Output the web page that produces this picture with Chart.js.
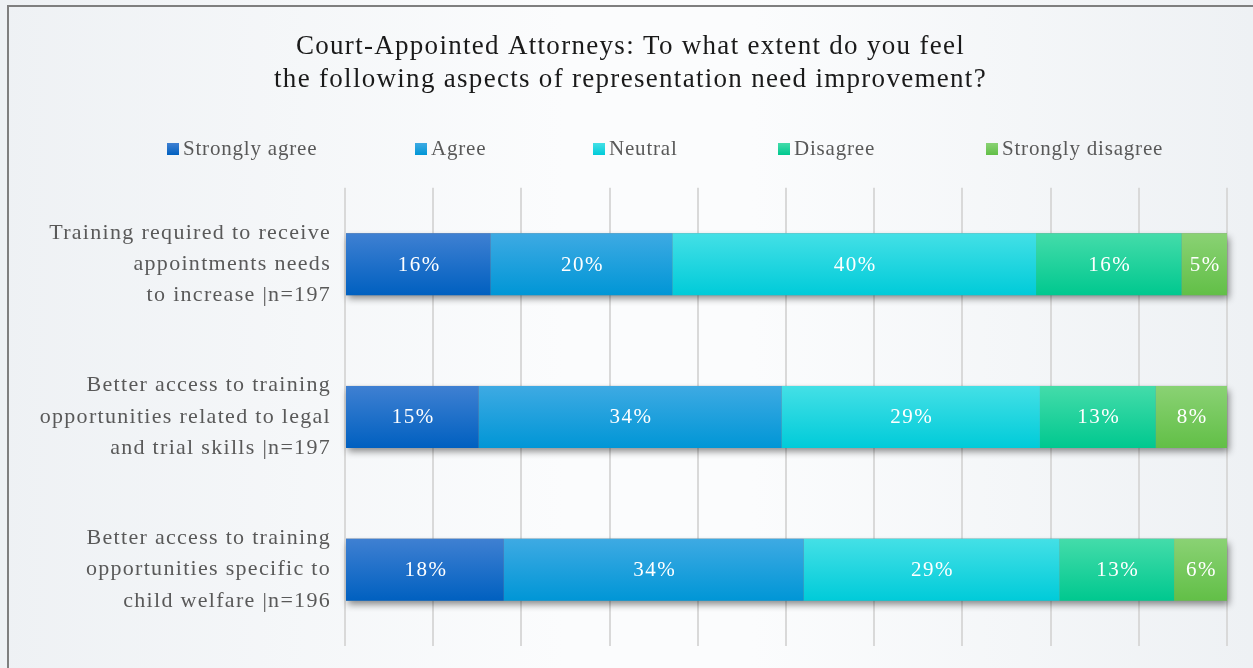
<!DOCTYPE html>
<html lang="en">
<head>
  <meta charset="UTF-8" />
  <title>Court-Appointed Attorneys</title>
  <script src="https://cdn.jsdelivr.net/npm/chart.js"></script>
  <style>
    html, body {
      margin: 0;
      padding: 0;
      width: 1253px;
      height: 668px;
      overflow: hidden;
    }
    body {
      background: linear-gradient(to right, #eef1f4 0%, #fbfcfd 45%, #fbfcfd 60%, #eef1f4 100%);
      font-family: "Liberation Serif", serif;
    }
    .frame {
      position: absolute;
      left: 7px;
      top: 5px;
      width: 1260px;
      height: 680px;
      border-left: 2px solid #7f7f7f;
      border-top: 2px solid #7f7f7f;
    }
    #wrap {
      position: absolute;
      left: 0;
      top: 0;
      width: 1253px;
      height: 668px;
    }
    .legend {
      position: absolute;
      top: 136px;
      left: 0;
      width: 1253px;
      height: 26px;
      font-size: 21px;
      letter-spacing: 0.8px;
      color: #595959;
    }
    .legend-item {
      position: absolute;
      top: 0;
      display: flex;
      align-items: center;
      white-space: nowrap;
    }
    .color-box {
      width: 12px;
      height: 12px;
      margin-right: 4px;
    }
  </style>
</head>
<body>

<div class="frame"></div>
<div id="wrap"><canvas id="chart" width="1253" height="668"></canvas></div>
<div class="legend" id="legendContainer"></div>

<script>
  const categories = [
    ["Training required to receive", "appointments needs", "to increase |n=197"],
    ["Better access to training", "opportunities related to legal", "and trial skills |n=197"],
    ["Better access to training", "opportunities specific to", "child welfare |n=196"]
  ];
  const seriesNames = ["Strongly agree", "Agree", "Neutral", "Disagree", "Strongly disagree"];

  // percentages as printed on the bars
  const stronglyAgree = [16, 15, 18];
  const agree = [20, 34, 34];
  const neutral = [40, 29, 29];
  const disagree = [16, 13, 13];
  const stronglyDisagree = [5, 8, 6];

  const xTicks = [0, 10, 20, 30, 40, 50, 60, 70, 80, 90, 100];

  // [top, bottom] of the vertical gradient on each segment
  const colors = [
    ["#3f80d2", "#0060c0"],
    ["#3eaae3", "#0096d6"],
    ["#44e0e6", "#00cbd9"],
    ["#44dcaa", "#00c88f"],
    ["#8ad274", "#62bf47"]
  ];

  // left edge (px) of each legend entry
  const legendLeft = [167, 415, 593, 778, 986];

  const series = [stronglyAgree, agree, neutral, disagree, stronglyDisagree];
  const totals = categories.map((c, i) => series.reduce((s, arr) => s + arr[i], 0));
  const barPct = 0.406;

  function segmentFill(k) {
    return function (ctx) {
      const chart = ctx.chart;
      const y = chart.scales.y;
      if (!chart.chartArea || !y || ctx.dataIndex === undefined) return colors[k][1];
      const band = (y.bottom - y.top) / categories.length;
      const cy = y.getPixelForValue(ctx.dataIndex);
      const h = band * barPct / 2;
      const g = chart.ctx.createLinearGradient(0, cy - h, 0, cy + h);
      g.addColorStop(0, colors[k][0]);
      g.addColorStop(1, colors[k][1]);
      return g;
    };
  }

  // the reference font runs wider than Liberation Serif
  const spacing = {
    id: 'spacing',
    beforeDraw(chart) { chart.ctx.letterSpacing = '1.3px'; }
  };

  const barShadow = {
    id: 'barShadow',
    beforeDatasetsDraw(chart) {
      const ctx = chart.ctx;
      const first = chart.getDatasetMeta(0).data;
      const last = chart.getDatasetMeta(series.length - 1).data;
      ctx.save();
      ctx.shadowColor = 'rgba(0,0,0,0.45)';
      ctx.shadowBlur = 7;
      ctx.shadowOffsetX = 2;
      ctx.shadowOffsetY = 4;
      ctx.fillStyle = '#888';
      first.forEach((bar, i) => {
        const left = bar.base;
        const right = last[i].x;
        ctx.fillRect(left, bar.y - bar.height / 2, right - left, bar.height);
      });
      ctx.restore();
    }
  };

  const valueLabels = {
    id: 'valueLabels',
    afterDatasetsDraw(chart) {
      const ctx = chart.ctx;
      ctx.save();
      ctx.font = '21px "Liberation Serif"';
      ctx.letterSpacing = '1.5px';
      ctx.fillStyle = '#ffffff';
      ctx.textAlign = 'center';
      ctx.textBaseline = 'middle';
      series.forEach((arr, k) => {
        chart.getDatasetMeta(k).data.forEach((bar, i) => {
          ctx.fillText(arr[i] + '%', (bar.x + bar.base) / 2 + 1, bar.y + 1);
        });
      });
      ctx.restore();
    }
  };

  const ctx = document.getElementById('chart').getContext('2d');
  new Chart(ctx, {
    type: 'bar',
    data: {
      labels: categories,
      datasets: series.map((arr, k) => ({
        label: seriesNames[k],
        data: arr.map((v, i) => v / totals[i] * 100),
        backgroundColor: segmentFill(k),
        borderWidth: 0,
        barPercentage: barPct,
        categoryPercentage: 1
      }))
    },
    options: {
      indexAxis: 'y',
      responsive: false,
      animation: false,
      layout: { padding: { left: 34, right: 26, top: 0, bottom: 22 } },
      scales: {
        x: {
          stacked: true,
          min: 0,
          max: 100,
          afterBuildTicks(scale) { scale.ticks = xTicks.map(v => ({ value: v })); },
          afterFit(scale) { scale.height = 0; },
          ticks: { display: false },
          grid: { color: '#d9d9d9', lineWidth: 2, drawTicks: false },
          border: { display: false }
        },
        y: {
          stacked: true,
          afterFit(scale) {
            scale.width = 311;
            scale.paddingTop = 0;
            scale.paddingBottom = 0;
          },
          ticks: {
            color: '#595959',
            padding: 14,
            font: { family: 'Liberation Serif', size: 22, lineHeight: 1.42 }
          },
          grid: { display: false, drawTicks: false },
          border: { display: false }
        }
      },
      plugins: {
        legend: { display: false },
        tooltip: { enabled: false },
        title: {
          display: true,
          text: ['Court-Appointed Attorneys: To what extent do you feel',
                 'the following aspects of representation need improvement?'],
          color: '#1a1a1a',
          font: { family: 'Liberation Serif', size: 27, weight: 'normal', lineHeight: 1.2 },
          padding: { top: 31, bottom: 92 }
        }
      }
    },
    plugins: [spacing, barShadow, valueLabels]
  });

  function buildLegend() {
    const legend = document.getElementById('legendContainer');
    seriesNames.forEach((name, k) => {
      const item = document.createElement('div');
      item.className = 'legend-item';
      item.style.left = legendLeft[k] + 'px';
      item.innerHTML = '<div class="color-box" style="background: linear-gradient(' +
        colors[k][0] + ', ' + colors[k][1] + ')"></div><span>' + name + '</span>';
      legend.appendChild(item);
    });
  }

  buildLegend();
</script>

</body>
</html>
